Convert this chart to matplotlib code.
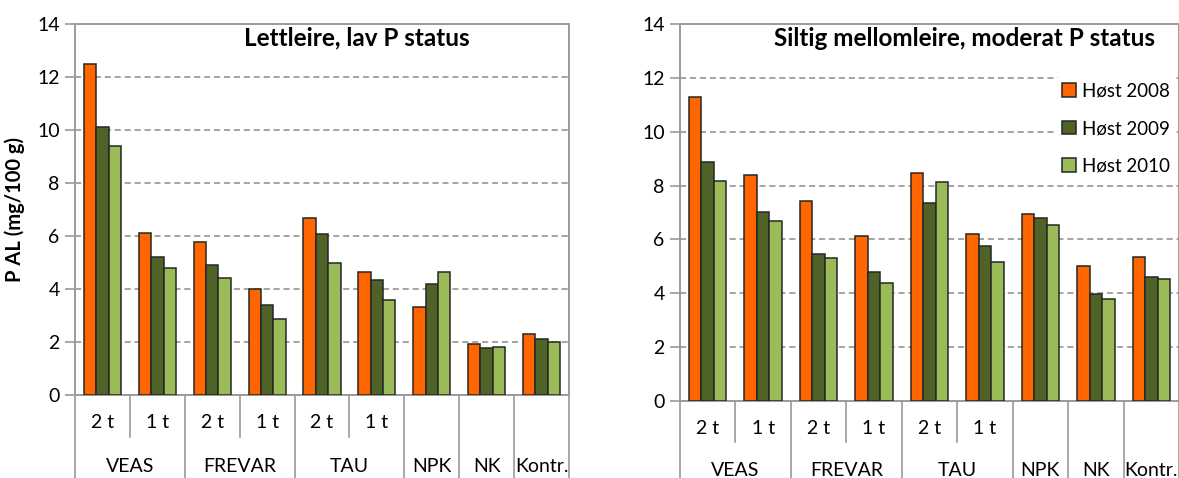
import numpy as np
import matplotlib.pyplot as plt
from matplotlib.transforms import blended_transform_factory

plt.rcParams['font.family'] = ['Lato', 'DejaVu Sans']

# categories (two-level axis)
sub_labels = ['2 t', '1 t', '2 t', '1 t', '2 t', '1 t', '', '', '']
groups = ['VEAS', 'FREVAR', 'TAU', 'NPK', 'NK', 'Kontr.']
group_span = [(0, 1), (2, 3), (4, 5), (6, 6), (7, 7), (8, 8)]
series = ['Høst 2008', 'Høst 2009', 'Høst 2010']

# Lettleire, lav P status
left_2008 = [12.5, 6.12, 5.78, 4.0, 6.68, 4.63, 3.33, 1.92, 2.32]
left_2009 = [10.1, 5.2, 4.9, 3.4, 6.06, 4.35, 4.17, 1.77, 2.1]
left_2010 = [9.4, 4.78, 4.42, 2.85, 5.0, 3.6, 4.63, 1.81, 2.0]

# Siltig mellomleire, moderat P status
right_2008 = [11.28, 8.39, 7.44, 6.14, 8.45, 6.21, 6.96, 5.0, 5.36]
right_2009 = [8.87, 7.01, 5.47, 4.79, 7.34, 5.77, 6.8, 3.96, 4.6]
right_2010 = [8.18, 6.68, 5.31, 4.38, 8.13, 5.17, 6.52, 3.78, 4.54]

colors = ['#FF6600', '#4F6228', '#9BBB59']
grid_col = '#8C8C8C'
frame_col = '#9A9A9A'

W, H = 1179, 478
fig = plt.figure(figsize=(W / 100, H / 100), dpi=100)


def px_axes(x0, x1, y_top, y_bot):
    return fig.add_axes([x0 / W, 1 - y_bot / H, (x1 - x0) / W, (y_bot - y_top) / H])


def draw(ax, data, title, h_px, row1, lab1, lab2, legend=False):
    x = np.arange(len(sub_labels))
    bw = 0.225
    for i, vals in enumerate(data):
        ax.bar(x + (i - 1) * bw, vals, bw, color=colors[i], edgecolor='#262626',
               linewidth=1.1, label=series[i], zorder=3)
    ax.set_xlim(-0.5, len(sub_labels) - 0.5)
    ax.set_ylim(0, 14)
    ax.set_yticks(range(0, 15, 2))
    ax.tick_params(axis='y', labelsize=14, length=7, color=frame_col, width=1.2, pad=4)
    ax.set_xticks([])
    for y in range(2, 14, 2):
        ax.axhline(y, color=grid_col, lw=1.1, ls=(0, (4, 2.5)), zorder=1)
    for s in ax.spines.values():
        s.set_color(frame_col)
        s.set_linewidth(1.4)
    ax.text(0.571, 0.962, title, transform=ax.transAxes, ha='center', va='center',
            fontsize=17.5, fontweight='bold')

    # two-level category axis below the plot
    tr = blended_transform_factory(ax.transData, ax.transAxes)
    for b in [0.5, 2.5, 4.5]:
        ax.plot([b, b], [0, -row1 / h_px], transform=tr, color=frame_col, lw=1.2, clip_on=False)
    for b in [-0.5, 1.5, 3.5, 5.5, 6.5, 7.5, 8.5]:
        ax.plot([b, b], [0, -1.0], transform=tr, color=frame_col, lw=1.2, clip_on=False)
    for i, s in enumerate(sub_labels):
        ax.text(i, -lab1 / h_px, s, transform=tr, ha='center', va='center', fontsize=14)
    for g, (a, b) in zip(groups, group_span):
        ax.text((a + b) / 2, -lab2 / h_px, g, transform=tr, ha='center', va='center', fontsize=14)
    if legend:
        leg = ax.legend(loc='upper right', bbox_to_anchor=(1.0, 0.87), frameon=True,
                        fontsize=13.5, handlelength=0.75, handleheight=0.75,
                        labelspacing=1.1, handletextpad=0.3, borderpad=0.3,
                        borderaxespad=0.2)
        leg.get_frame().set_edgecolor('white')
        leg.get_frame().set_alpha(1)
        leg.set_zorder(5)


ax1 = px_axes(75, 569, 24, 395)
draw(ax1, [left_2008, left_2009, left_2010], 'Lettleire, lav P status', 371, 42, 28, 71)
ax1.set_ylabel('P AL (mg/100 g)', fontsize=14.5, fontweight='bold', labelpad=9)

ax2 = px_axes(680, 1179, 24, 401)
draw(ax2, [right_2008, right_2009, right_2010], 'Siltig mellomleire, moderat P status',
     377, 41, 28, 69, legend=True)

fig.savefig('out.png', dpi=100)
